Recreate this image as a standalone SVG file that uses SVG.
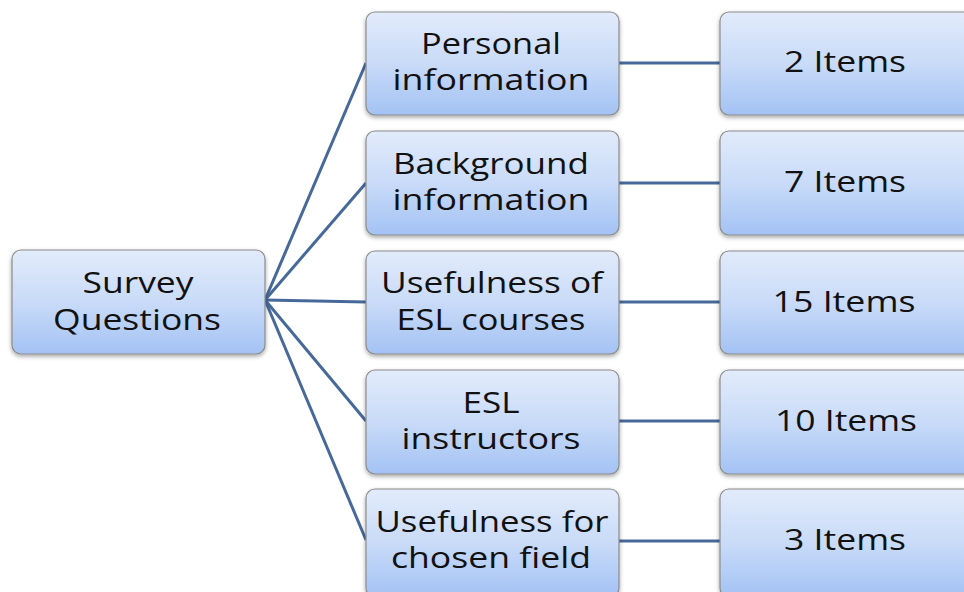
<svg xmlns="http://www.w3.org/2000/svg" width="964" height="592" viewBox="0 0 964 592">
<defs>
<linearGradient id="g" x1="0" y1="0" x2="0" y2="1">
<stop offset="0" stop-color="#e2ebfb"/>
<stop offset="0.5" stop-color="#c9dbf8"/>
<stop offset="1" stop-color="#a3c2f4"/>
</linearGradient>
<filter id="sh" x="-10%" y="-10%" width="120%" height="130%">
<feDropShadow dx="0" dy="2" stdDeviation="2" flood-color="#000" flood-opacity="0.35"/>
</filter>
</defs>
<style>
.box{fill:url(#g);stroke:#8c8c8c;stroke-width:1.2;filter:url(#sh)}
.t{font-family:"Open Sans","DejaVu Sans",sans-serif;font-size:29px;fill:#111;text-anchor:middle}
.c{stroke:#46699a;stroke-width:3;fill:none}
</style>
<rect width="964" height="592" fill="#fff"/>
<g id="connectors">
<line class="c" x1="265" y1="300" x2="366" y2="63"/>
<line class="c" x1="265" y1="300" x2="366" y2="183"/>
<line class="c" x1="265" y1="300" x2="366" y2="302"/>
<line class="c" x1="265" y1="300" x2="366" y2="421"/>
<line class="c" x1="265" y1="300" x2="366" y2="540"/>
<line class="c" x1="619" y1="63" x2="720" y2="63"/>
<line class="c" x1="619" y1="183" x2="720" y2="183"/>
<line class="c" x1="619" y1="302" x2="720" y2="302"/>
<line class="c" x1="619" y1="421" x2="720" y2="421"/>
<line class="c" x1="619" y1="541" x2="720" y2="541"/>
</g>
<g id="survey">
<rect class="box" x="12" y="250" width="253" height="104" rx="9"/>
<text class="t" x="138" y="293" textLength="111" lengthAdjust="spacingAndGlyphs">Survey</text>
<text class="t" x="137" y="330" textLength="168" lengthAdjust="spacingAndGlyphs">Questions</text>
</g>
<g id="personal">
<rect class="box" x="366" y="12" width="253" height="103" rx="9"/>
<text class="t" x="491" y="54" textLength="140" lengthAdjust="spacingAndGlyphs">Personal</text>
<text class="t" x="491" y="90" textLength="197" lengthAdjust="spacingAndGlyphs">information</text>
</g>
<g id="background">
<rect class="box" x="366" y="131" width="253" height="104" rx="9"/>
<text class="t" x="491" y="174" textLength="196" lengthAdjust="spacingAndGlyphs">Background</text>
<text class="t" x="491" y="210" textLength="197" lengthAdjust="spacingAndGlyphs">information</text>
</g>
<g id="usefulness-esl">
<rect class="box" x="366" y="251" width="253" height="103" rx="9"/>
<text class="t" x="492" y="293" textLength="222" lengthAdjust="spacingAndGlyphs">Usefulness of</text>
<text class="t" x="491" y="330" textLength="189" lengthAdjust="spacingAndGlyphs">ESL courses</text>
</g>
<g id="instructors">
<rect class="box" x="366" y="370" width="253" height="104" rx="9"/>
<text class="t" x="491" y="413" textLength="57" lengthAdjust="spacingAndGlyphs">ESL</text>
<text class="t" x="491" y="449" textLength="179" lengthAdjust="spacingAndGlyphs">instructors</text>
</g>
<g id="usefulness-field">
<rect class="box" x="366" y="489" width="253" height="108" rx="9"/>
<text class="t" x="492" y="532" textLength="233" lengthAdjust="spacingAndGlyphs">Usefulness for</text>
<text class="t" x="491" y="568" textLength="200" lengthAdjust="spacingAndGlyphs">chosen field</text>
</g>
<g id="items2">
<rect class="box" x="720" y="12" width="260" height="103" rx="9"/>
<text class="t" x="845" y="72" textLength="122" lengthAdjust="spacingAndGlyphs">2 Items</text>
</g>
<g id="items7">
<rect class="box" x="720" y="131" width="260" height="104" rx="9"/>
<text class="t" x="845" y="192" textLength="122" lengthAdjust="spacingAndGlyphs">7 Items</text>
</g>
<g id="items15">
<rect class="box" x="720" y="251" width="260" height="103" rx="9"/>
<text class="t" x="844" y="312" textLength="143" lengthAdjust="spacingAndGlyphs">15 Items</text>
</g>
<g id="items10">
<rect class="box" x="720" y="370" width="260" height="104" rx="9"/>
<text class="t" x="846" y="431" textLength="142" lengthAdjust="spacingAndGlyphs">10 Items</text>
</g>
<g id="items3">
<rect class="box" x="720" y="489" width="260" height="108" rx="9"/>
<text class="t" x="845" y="550" textLength="122" lengthAdjust="spacingAndGlyphs">3 Items</text>
</g>
</svg>
